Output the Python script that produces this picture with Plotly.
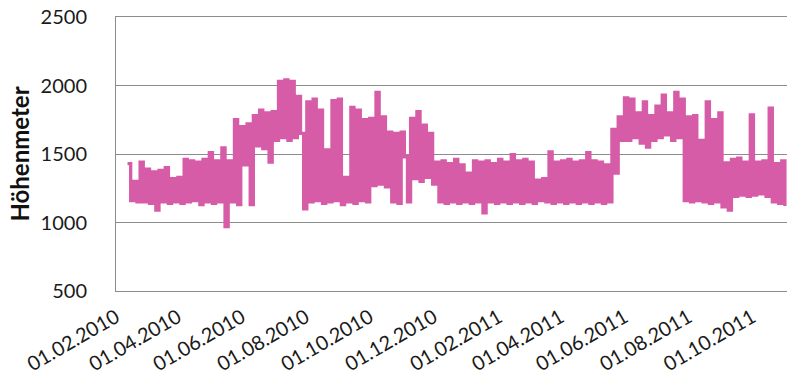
# -*- coding: utf-8 -*-
"""
Hoehenprofil 2010-2011 als Linienplot.
"""

import pandas as pd
import plotly.graph_objects as go

# Werte alle 3 Tage, ab 12.02.2010
START_DATE = '2010-02-12'
STEP = '3D'

fruehjahr_2010 = [1430, 1160, 1300, 1150, 1440, 1150, 1390, 1140, 1370, 1090,
                  1380, 1150, 1400, 1140, 1320, 1150, 1330, 1140, 1460, 1150,
                  1450, 1160, 1440, 1130, 1460, 1150, 1510, 1140, 1450, 1150,
                  1545, 970, 1450, 1150]

sommer_2010 = [1750, 1130, 1700, 1420, 1720, 1130, 1780, 1560, 1820, 1540,
               1800, 1440, 1810, 1600, 2030, 1620, 2040, 1600, 2030, 1620,
               1920, 1650]

herbst_2010 = [1100, 1880, 1150, 1900, 1160, 1820, 1140, 1530, 1150, 1890,
               1160, 1900, 1130, 1330, 1150, 1840, 1140, 1820, 1160, 1750,
               1150, 1760, 1270, 1950, 1280, 1770, 1260, 1660, 1150, 1650,
               1140, 1660, 1480, 1150, 1760, 1320, 1810, 1300, 1710, 1330,
               1650, 1280]

winter_2011 = [1440, 1150, 1450, 1140, 1430, 1150, 1460, 1140, 1420, 1150,
               1360, 1140, 1450, 1150, 1440, 1070, 1450, 1150, 1430, 1140,
               1460, 1150, 1440, 1140, 1495, 1150, 1450, 1140, 1460, 1150,
               1440, 1140, 1310, 1160, 1320, 1150, 1515, 1140, 1440, 1150,
               1450, 1140, 1460, 1150, 1440, 1140, 1450, 1150, 1510, 1140,
               1450, 1150, 1440, 1140, 1420, 1150]

sommer_2011 = [1680, 1360, 1770, 1600, 1910, 1600, 1900, 1620, 1800, 1580,
               1880, 1550, 1780, 1600, 1850, 1620, 1930, 1640, 1800, 1600,
               1950, 1620, 1900]

herbst_2011 = [1160, 1770, 1150, 1780, 1160, 1600, 1150, 1880, 1140, 1750,
               1150, 1800, 1115, 1435, 1090, 1460, 1190, 1470, 1200, 1440,
               1190, 1785, 1200, 1440, 1210, 1450, 1190, 1835, 1150, 1430,
               1140, 1450, 1120]

tick_dates = ['2010-02-01', '2010-04-01', '2010-06-01', '2010-08-01',
              '2010-10-01', '2010-12-01', '2011-02-01', '2011-04-01',
              '2011-06-01', '2011-08-01', '2011-10-01']
tick_labels = ['01.02.2010', '01.04.2010', '01.06.2010', '01.08.2010',
               '01.10.2010', '01.12.2010', '01.02.2011', '01.04.2011',
               '01.06.2011', '01.08.2011', '01.10.2011']
y_ticks = [500, 1000, 1500, 2000, 2500]


def make_plot():
    hoehe = (fruehjahr_2010 + sommer_2010 + herbst_2010 + winter_2011
             + sommer_2011 + herbst_2011)
    dates = pd.date_range(start=START_DATE, periods=len(hoehe), freq=STEP)

    fig = go.Figure()
    # step line: the dense up/down swings fill in like the daily band
    fig.add_trace(go.Scatter(x=dates, y=hoehe, mode='lines',
                             line=dict(color='#D75CA8', width=3.3,
                                       shape='hv'),
                             hoverinfo='x+y'))

    grid = '#8c8c8c'
    fig.update_layout(
        width=787, height=378,
        margin=dict(l=116, r=0, t=17, b=87),
        plot_bgcolor='white', paper_bgcolor='white',
        showlegend=False,
        font=dict(family='Lato, Calibri, sans-serif', color='#1a1a1a'),
        xaxis=dict(type='date', automargin=False,
                   range=['2010-02-01', '2011-11-03'],
                   tickvals=tick_dates, ticktext=tick_labels,
                   tickangle=-30, tickfont=dict(size=20),
                   ticklabelstandoff=6,
                   showgrid=False, zeroline=False,
                   showline=True, mirror=True,
                   linecolor=grid, linewidth=1,
                   ticks=''),
        yaxis=dict(range=[500, 2500], tickvals=y_ticks, automargin=False,
                   tickfont=dict(size=20),
                   showgrid=True, gridcolor=grid, gridwidth=1,
                   zeroline=False,
                   showline=True, linecolor=grid, linewidth=1,
                   ticks='', ticklabelstandoff=24,
                   title=dict(text='<b>Höhenmeter</b>',
                              font=dict(size=24, color='#111111'),
                              standoff=4)))

    # no body margin, so the chart sits at the page corner
    fig.write_html('out.html', config={'displayModeBar': False},
                   post_script="document.body.style.margin = '0';")


if __name__ == "__main__":
    make_plot()
